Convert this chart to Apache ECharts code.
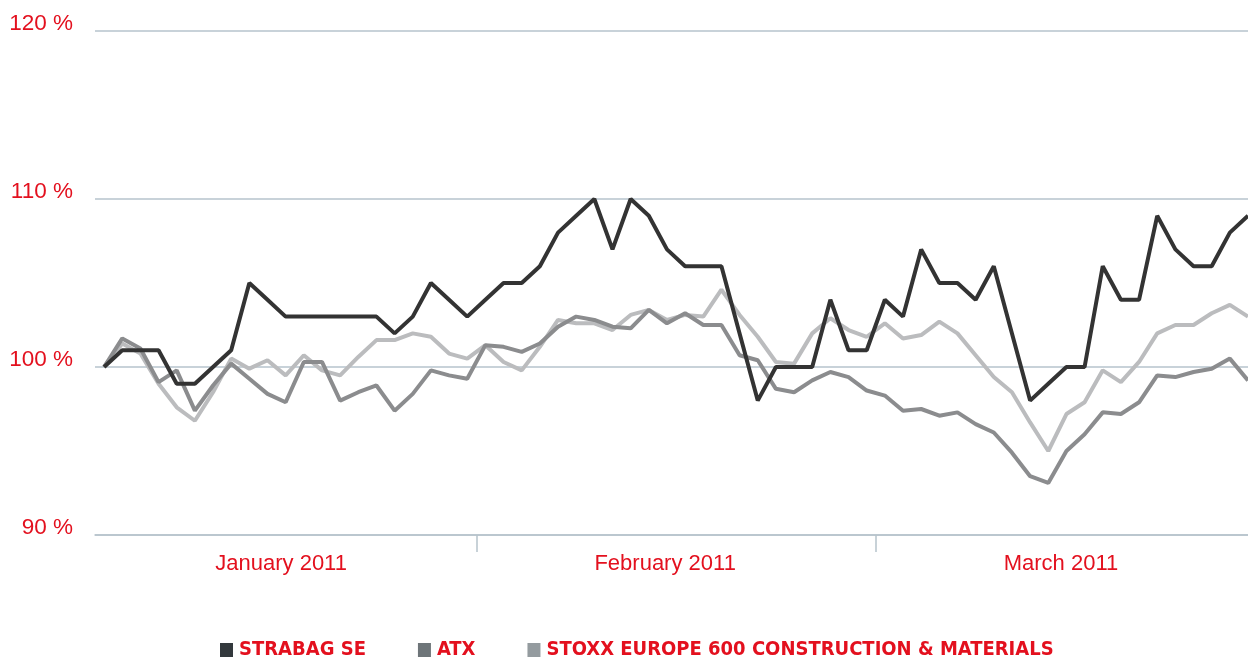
<!DOCTYPE html>
<html>
<head>
<meta charset="utf-8">
<script src="https://cdn.jsdelivr.net/npm/echarts@6/dist/echarts.min.js"></script>
<style>
html, body { margin: 0; padding: 0; background: #fff; }
#main { width: 1248px; height: 657px; }
</style>
</head>
<body>
<div id="main"></div>
<script>
// trading days, index 0 = first day of January 2011
var strabag = [100, 101, 101, 101, 99, 99, 100, 101, 105, 104, 103, 103, 103, 103, 103, 103, 102, 103, 105, 104, 103,
    104, 105, 105, 106, 108, 109, 110, 107, 110, 109, 107, 106, 106, 106, 102, 98, 100, 100, 100, 104, 101, 101,
    104, 103, 107, 105, 105, 104, 106, 102, 98, 99, 100, 100, 106, 104, 104, 109, 107, 106, 106, 108, 109];
var atx = [100, 101.7, 101.1, 99.1, 99.8, 97.4, 98.9, 100.2, 99.3, 98.4, 97.9, 100.3, 100.3, 98.0, 98.5, 98.9, 97.4, 98.4, 99.8, 99.5, 99.3,
    101.3, 101.2, 100.9, 101.4, 102.4, 103.0, 102.8, 102.4, 102.3, 103.4, 102.6, 103.2, 102.5, 102.5, 100.7, 100.4, 98.7, 98.5, 99.2, 99.7, 99.4, 98.6,
    98.3, 97.4, 97.5, 97.1, 97.3, 96.6, 96.1, 94.9, 93.5, 93.1, 95.0, 96.0, 97.3, 97.2, 97.9, 99.5, 99.4, 99.7, 99.9, 100.5, 99.2];
var stoxx = [100, 101.4, 100.8, 99.0, 97.6, 96.8, 98.5, 100.5, 99.9, 100.4, 99.5, 100.7, 99.8, 99.5, 100.6, 101.6, 101.6, 102.0, 101.8, 100.8, 100.5,
    101.3, 100.3, 99.8, 101.2, 102.8, 102.6, 102.6, 102.2, 103.1, 103.4, 102.8, 103.1, 103.0, 104.6, 103.1, 101.8, 100.3, 100.2, 102.0, 102.9, 102.2, 101.8,
    102.6, 101.7, 101.9, 102.7, 102.0, 100.7, 99.4, 98.5, 96.7, 95.0, 97.2, 97.9, 99.8, 99.1, 100.3, 102.0, 102.5, 102.5, 103.2, 103.7, 103.0];

var seriesNames = ['STRABAG SE', 'ATX', 'STOXX EUROPE 600 CONSTRUCTION & MATERIALS'];
var months = ['January 2011', 'February 2011', 'March 2011'];
var monthLabelAt = [9.75, 30.9, 52.7];   // day index where the month label sits
var monthBreaks = [20.5, 42.5];          // between last day of one month and first of next

var red = '#e3101e';
var gridColor = '#b6c3cc';

function pairs(arr) {
    return arr.map(function (v, i) { return [i, v]; });
}

var chart = echarts.init(document.getElementById('main'));
chart.setOption({
    animation: false,
    grid: { left: 95, right: 0, top: 31, bottom: 122 },
    legend: {
        left: 220,
        top: 640,
        padding: 0,
        itemWidth: 13,
        itemHeight: 14,
        itemGap: 52,
        icon: 'rect',
        textStyle: {
            color: red,
            fontFamily: '"DejaVu Sans Condensed", "Liberation Sans Narrow", sans-serif',
            fontWeight: 'bold',
            fontSize: 20,
            padding: [0, 0, 5, 1]
        },
        data: [
            { name: seriesNames[0], itemStyle: { color: '#33393d' } },
            { name: seriesNames[1], itemStyle: { color: '#6e7579' } },
            { name: seriesNames[2], itemStyle: { color: '#949b9f' } }
        ]
    },
    xAxis: {
        type: 'value',
        min: -0.5,
        max: 63,
        splitLine: { show: false },
        axisLine: { show: true, onZero: false, lineStyle: { color: gridColor, width: 1.5 } },
        axisTick: {
            show: true,
            customValues: monthBreaks,
            length: 17,
            lineStyle: { color: gridColor, width: 1.5 }
        },
        axisLabel: {
            customValues: monthLabelAt,
            margin: 18,
            color: red,
            fontSize: 22,
            fontFamily: '"Liberation Sans", Arial, sans-serif',
            formatter: function (v) {
                var best = 0;
                for (var i = 1; i < monthLabelAt.length; i++) {
                    if (Math.abs(monthLabelAt[i] - v) < Math.abs(monthLabelAt[best] - v)) best = i;
                }
                return months[best];
            }
        }
    },
    yAxis: {
        type: 'value',
        min: 90,
        max: 120,
        interval: 10,
        axisLine: { show: false },
        axisTick: { show: false },
        splitLine: { lineStyle: { color: gridColor, width: 1.5 } },
        axisLabel: {
            margin: 22,
            color: red,
            fontSize: 22.5,
            fontFamily: '"Liberation Sans", Arial, sans-serif',
            verticalAlign: 'bottom',
            lineHeight: 14,
            formatter: '{value} %'
        }
    },
    series: [
        {
            name: seriesNames[0], type: 'line', data: pairs(strabag), z: 5,
            symbol: 'none', lineStyle: { color: '#333333', width: 4 }, itemStyle: { color: '#33393d' }
        },
        {
            name: seriesNames[1], type: 'line', data: pairs(atx), z: 4,
            symbol: 'none', lineStyle: { color: '#8b8c8e', width: 4 }, itemStyle: { color: '#6e7579' }
        },
        {
            name: seriesNames[2], type: 'line', data: pairs(stoxx), z: 3,
            symbol: 'none', lineStyle: { color: '#bbbcbe', width: 4 }, itemStyle: { color: '#949b9f' }
        }
    ]
});
</script>
</body>
</html>
